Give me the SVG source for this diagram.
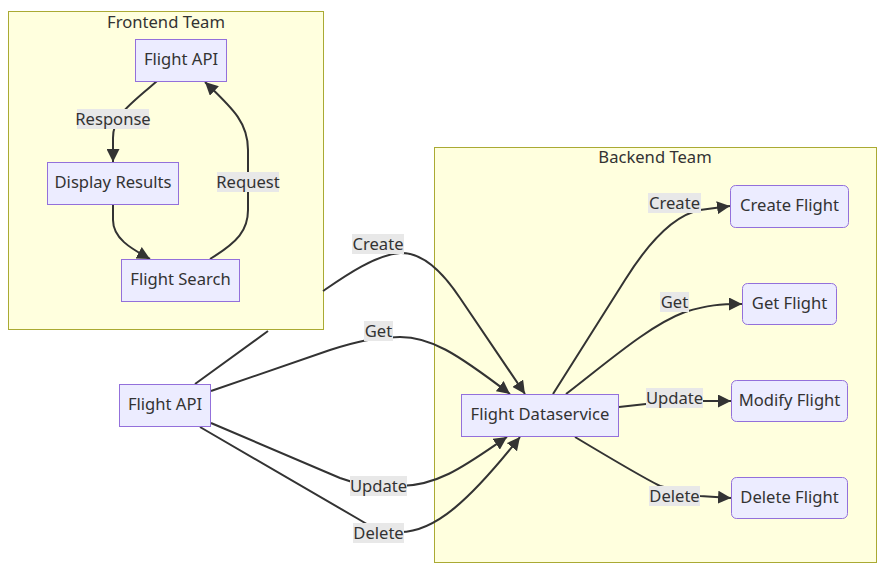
<svg xmlns="http://www.w3.org/2000/svg" width="885" height="575" viewBox="0 0 885 575">
<style>
text{font-family:"Noto Sans","DejaVu Sans",sans-serif;font-size:16.6px;fill:#333;text-anchor:middle;dominant-baseline:central}
.cluster{fill:#ffffde;stroke:#aaaa33;stroke-width:1}
.node{fill:#ECECFF;stroke:#9370DB;stroke-width:1}
.edge{fill:none;stroke:#333;stroke-width:2}
.lbl{fill:#e8e8e8}
</style>
<defs>
<marker id="arr" viewBox="0 0 10 10" refX="10" refY="5" markerWidth="13" markerHeight="13" markerUnits="userSpaceOnUse" orient="auto">
<path d="M0,0 L10,5 L0,10 z" fill="#333"/>
</marker>
</defs>
<g id="clusters">
<g id="frontend-team">
<rect class="cluster" x="8.5" y="11.5" width="315" height="318"/>
<text x="166" y="21">Frontend Team</text>
</g>
<g id="backend-team">
<rect class="cluster" x="434.5" y="147.5" width="442" height="415"/>
<text x="655" y="156">Backend Team</text>
</g>
</g>
<g id="connectors">
<path class="edge" marker-end="url(#arr)" d="M157,81 C130,105 113,115 113,138 L113,162"/>
<path class="edge" marker-end="url(#arr)" d="M113,205 L113,220 C113,238 130,248 150,259"/>
<path class="edge" marker-end="url(#arr)" d="M210,259 C238,242 248,230 248,210 L248,150 C248,122 232,108 205,82"/>
<path class="edge" marker-end="url(#arr)" d="M195,384 L268,331 M323,291 C345,276 375,255 400,253 C420,252 440,268 460,298 L525,394"/>
<path class="edge" marker-end="url(#arr)" d="M211,391 L330,350 C355,342 375,337 400,337 C430,337 455,352 510,394"/>
<path class="edge" marker-end="url(#arr)" d="M211,423 L340,478 C355,484 370,486 400,486 C440,486 470,462 507,437"/>
<path class="edge" marker-end="url(#arr)" d="M200,427 L360,520 C368,525 380,533 400,532 C435,532 470,500 520,437"/>
<path class="edge" marker-end="url(#arr)" d="M553,394 L625,280 C650,240 675,215 700,210 L730,206"/>
<path class="edge" marker-end="url(#arr)" d="M566,394 C610,360 650,325 685,312 C708,305 720,304 742,304"/>
<path class="edge" marker-end="url(#arr)" d="M619,407 L646,404 L703,401 L731,401"/>
<path class="edge" marker-end="url(#arr)" d="M575,437 C610,458 640,476 660,486 L700,496 L731,498"/>
</g>
<g id="edge-labels">
<rect class="lbl" x="77" y="109" width="72" height="20"/><text x="113" y="118">Response</text>
<rect class="lbl" x="217" y="172" width="62" height="20"/><text x="248" y="181">Request</text>
<rect class="lbl" x="352" y="234" width="52" height="20"/><text x="378" y="243">Create</text>
<rect class="lbl" x="364" y="321" width="29" height="20"/><text x="378.5" y="330">Get</text>
<rect class="lbl" x="350" y="476" width="57" height="20"/><text x="378.5" y="485">Update</text>
<rect class="lbl" x="353" y="523" width="51" height="20"/><text x="378.5" y="532">Delete</text>
<rect class="lbl" x="648" y="193" width="53" height="20"/><text x="674.5" y="202">Create</text>
<rect class="lbl" x="660" y="292" width="29" height="20"/><text x="674.5" y="301">Get</text>
<rect class="lbl" x="646" y="388" width="57" height="20"/><text x="674.5" y="397">Update</text>
<rect class="lbl" x="649" y="486" width="51" height="20"/><text x="674.5" y="495">Delete</text>
</g>
<g id="nodes">
<g id="fe-flight-api"><rect class="node" x="135.5" y="39.5" width="91" height="42"/><text x="181" y="58.5">Flight API</text></g>
<g id="display-results"><rect class="node" x="47.5" y="162.5" width="131" height="42"/><text x="113" y="181.5">Display Results</text></g>
<g id="flight-search"><rect class="node" x="121.5" y="259.5" width="118" height="42"/><text x="180.5" y="278.5">Flight Search</text></g>
<g id="flight-api"><rect class="node" x="119.5" y="384.5" width="91" height="42"/><text x="165" y="403.5">Flight API</text></g>
<g id="flight-dataservice"><rect class="node" x="461.5" y="394.5" width="157" height="42"/><text x="540" y="413.5">Flight Dataservice</text></g>
<g id="create-flight"><rect class="node" x="730.5" y="185.5" width="118" height="42" rx="5"/><text x="789.5" y="204.5">Create Flight</text></g>
<g id="get-flight"><rect class="node" x="742.5" y="283.5" width="94" height="41" rx="5"/><text x="789.5" y="302">Get Flight</text></g>
<g id="modify-flight"><rect class="node" x="731.5" y="380.5" width="116" height="41" rx="5"/><text x="789.5" y="399">Modify Flight</text></g>
<g id="delete-flight"><rect class="node" x="731.5" y="477.5" width="116" height="41" rx="5"/><text x="789.5" y="496">Delete Flight</text></g>
</g>
</svg>
